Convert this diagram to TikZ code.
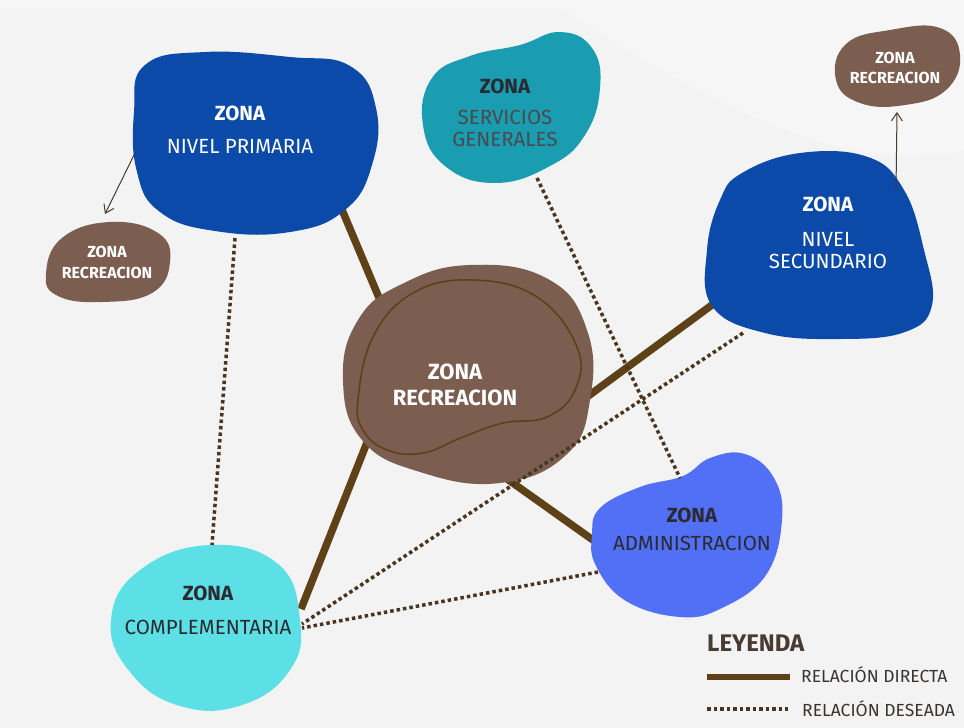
\documentclass[tikz,border=0pt]{standalone}
\usepackage{fontspec}
\setmainfont{Fira Sans}
\usetikzlibrary{arrows.meta}
\definecolor{bg}{HTML}{F3F3F3}
\definecolor{bgl}{HTML}{F6F6F6}
\definecolor{deepblue}{HTML}{0B4AA8}
\definecolor{tealz}{HTML}{1A9DB0}
\definecolor{brownz}{HTML}{7B5E50}
\definecolor{linkbrown}{HTML}{5E4117}
\definecolor{dotbrown}{HTML}{4A3520}
\definecolor{adminb}{HTML}{5170F5}
\definecolor{cyanz}{HTML}{5CE0E6}
\definecolor{darktext}{HTML}{2A2A30}
\definecolor{legtext}{HTML}{3A3430}
\definecolor{arrowc}{HTML}{4A3A2A}
\tikzset{
  direct/.style={draw=linkbrown, line width=7.5pt},
  wish/.style={draw=dotbrown, line width=3.5pt, dash pattern=on 3.5pt off 3pt},
  thinarrow/.style={draw=arrowc, line width=1pt, -{Straight Barb[length=8pt,width=11pt]}},
  blobtext/.style={align=center, inner sep=0pt},
  whitebig/.style={blobtext, text=white, font=\fontsize{20.5}{22}\selectfont},
  whitesmall/.style={blobtext, text=white, font=\fontsize{16}{19}\selectfont\bfseries},
  darkbig/.style={blobtext, text=darktext, font=\fontsize{20.5}{22}\selectfont},
}
\begin{document}
\begin{tikzpicture}[x=1pt,y=-1pt]
\useasboundingbox (0,0) rectangle (964,728);
\fill[bg] (0,0) rectangle (964,728);
\fill[bgl] (0,0) rectangle (964,8);
\fill[bgl] (560,8) .. controls (700,100) and (850,180) .. (964,150) -- (964,8) -- cycle;

% attachment points
\coordinate (pA) at (340,205);
\coordinate (cA) at (385,312);
\coordinate (cB) at (368,440);
\coordinate (kA) at (301,609);
\coordinate (cC) at (503,476);
\coordinate (aA) at (600,545);
\coordinate (cD) at (576,405);
\coordinate (sA) at (716,302);
\coordinate (pB) at (235,238);
\coordinate (kB) at (212,545);
\coordinate (gA) at (537,178);
\coordinate (aB) at (680,478);
\coordinate (sB) at (743,333);
\coordinate (kC) at (302,624);
\coordinate (aC) at (598,572);
\coordinate (kD) at (302,628);
\coordinate (pC) at (135,153);
\coordinate (rL) at (105,214);
\coordinate (sC) at (896,190);
\coordinate (rR) at (897,112);

% direct relations (under the zones)
\draw[direct] (pA) -- (cA);
\draw[direct] (cB) -- (kA);
\draw[direct] (cC) -- (aA);
\draw[direct] (cD) -- (sA);

% zones
\fill[deepblue] plot[smooth cycle, tension=0.75] coordinates {(145,65) (205,52) (290,57) (350,66) (376,108) (372,165) (345,210) (290,232) (215,231) (160,212) (137,172) (134,112)};
\fill[brownz] plot[smooth cycle, tension=0.75] coordinates {(62,238) (110,222) (158,233) (170,262) (152,293) (102,302) (58,296) (46,274)};
\fill[tealz] plot[smooth cycle, tension=0.75] coordinates {(432,78) (470,56) (520,45) (560,32) (592,48) (600,88) (585,135) (550,166) (495,183) (445,166) (423,125)};
\fill[brownz] plot[smooth cycle, tension=0.75] coordinates {(846,44) (890,30) (940,28) (960,55) (946,90) (905,105) (860,103) (836,80)};
\fill[deepblue] plot[smooth cycle, tension=0.7] coordinates {(742,173) (800,153) (868,157) (904,190) (924,250) (932,305) (905,332) (840,339) (765,333) (712,306) (707,250) (720,200)};
\fill[brownz] plot[smooth cycle, tension=0.75] coordinates {(402,284) (470,265) (548,279) (587,330) (590,400) (566,455) (500,483) (420,472) (362,440) (343,380) (358,320)};
\draw[linkbrown, line width=1.6pt] plot[smooth cycle, tension=0.7] coordinates {(358,400) (373,337) (413,293) (473,280) (537,297) (577,347) (575,390) (547,417) (503,423) (463,437) (423,453) (387,450) (363,430)};
\fill[adminb] plot[smooth cycle, tension=0.7] coordinates {(600,508) (640,487) (683,476) (710,458) (745,454) (774,478) (782,520) (766,575) (722,608) (680,617) (626,601) (596,566) (592,535)};
\fill[cyanz] plot[smooth cycle, tension=0.75] coordinates {(140,570) (210,545) (278,564) (300,620) (290,670) (242,705) (180,706) (130,672) (111,620)};

% desired relations
\draw[wish] (pB) -- (kB);
\draw[wish] (gA) -- (aB);
\draw[wish] (sB) -- (kC);
\draw[wish] (aC) -- (kD);

% small arrows
\draw[thinarrow] (pC) -- (rL);
\draw[thinarrow] (sC) -- (rR);

% labels
\node[whitebig] (tprim) at (240,130) {\textbf{ZONA}\\[11pt]NIVEL PRIMARIA};
\node[whitesmall] (trecL) at (107,262) {ZONA\\[2pt]RECREACION};
\node[whitesmall] (trecR) at (895,68) {ZONA\\[1pt]RECREACION};
\node[darkbig] (tserv) at (505,113) {\textbf{ZONA}\\[9pt]{\color{darktext!85}SERVICIOS}\\{\color{darktext!85}GENERALES}};
\node[whitebig] (tsec) at (828,233) {\textbf{ZONA}\\[13pt]NIVEL\\SECUNDARIO};
\node[whitebig, font=\fontsize{22}{26}\selectfont\bfseries] (trecC) at (455,385) {ZONA\\RECREACION};
\node[darkbig] (tadm) at (692,529) {\textbf{ZONA}\\[6pt]ADMINISTRACION};
\node[darkbig] (tcomp) at (208,610) {\textbf{ZONA}\\[12pt]COMPLEMENTARIA};

% legend
\node[anchor=west, inner sep=0pt, text=darktext!80!brown, font=\fontsize{24}{28}\selectfont\bfseries] (leg) at (707,643) {LEYENDA};
\coordinate (lA) at (707,677);
\coordinate (lB) at (790,677);
\coordinate (lC) at (707,709);
\coordinate (lD) at (788,709);
\draw[draw=linkbrown, line width=6pt] (lA) -- (lB);
\draw[wish] (lC) -- (lD);
\node[anchor=west, inner sep=0pt, text=legtext, font=\fontsize{17.5}{20}\selectfont] (ldir) at (801,675) {RELACIÓN DIRECTA};
\node[anchor=west, inner sep=0pt, text=legtext, font=\fontsize{17.5}{20}\selectfont] (ldes) at (802,709) {RELACIÓN DESEADA};
\end{tikzpicture}
\end{document}
